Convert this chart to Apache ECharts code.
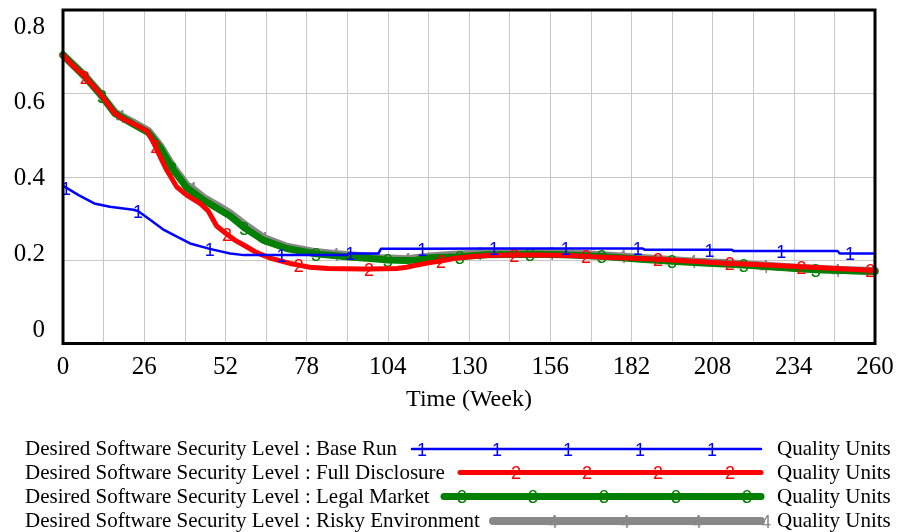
<!DOCTYPE html>
<html>
<head>
<meta charset="utf-8">
<script src="https://cdn.jsdelivr.net/npm/echarts@6/dist/echarts.min.js"></script>
<style>
html,body{margin:0;padding:0;background:#fff;}
#chart{width:899px;height:532px;}
</style>
</head>
<body>
<div id="chart"></div>
<script>
// ---------- DATA ----------
const xTickLabels = [0, 26, 52, 78, 104, 130, 156, 182, 208, 234, 260];
const yTickLabels = [0, 0.2, 0.4, 0.6, 0.8];

const seriesNames = [
  'Desired Software Security Level : Base Run',
  'Desired Software Security Level : Full Disclosure',
  'Desired Software Security Level : Legal Market',
  'Desired Software Security Level : Risky Environment'
];
const unitsLabel = 'Quality Units';
const xAxisTitle = 'Time (Week)';

const baseRunWeeks  = [0, 1, 5, 10, 15, 22.5, 24, 28, 32, 36, 40.7, 47, 53.5, 58, 64, 70, 90.8, 91.5, 92, 101, 101.8, 115, 138, 161, 184, 185.5, 186.2, 207, 214, 214.7, 230, 248, 248.7, 252, 260];
const baseRunValues = [0.378, 0.374, 0.356, 0.336, 0.328, 0.321, 0.318, 0.296, 0.274, 0.258, 0.240, 0.227, 0.216, 0.212, 0.212, 0.212, 0.212, 0.216, 0.216, 0.216, 0.227, 0.227, 0.228, 0.228, 0.228, 0.228, 0.225, 0.225, 0.225, 0.222, 0.222, 0.222, 0.216, 0.216, 0.216];
const baseRunMarkerWeeks = [1, 24, 47, 70, 92, 115, 138, 161, 184, 207, 230, 252];

const fullDisclosureWeeks  = [0, 3, 7, 11.8, 16.6, 19, 22.5, 26.8, 28, 29.5, 31, 33.2, 36.4, 39.6, 43.9, 46.5, 49.2, 52.5, 55, 58.8, 62, 66.3, 72.7, 75.5, 79, 85, 96, 98, 106.9, 110, 113.2, 117.5, 121, 125, 130, 135.7, 144.5, 152, 162, 167.5, 173, 180, 190.5, 204, 213.5, 220, 236.5, 252, 258.5, 260];
const fullDisclosureValues = [0.692, 0.668, 0.640, 0.600, 0.552, 0.540, 0.527, 0.510, 0.496, 0.474, 0.450, 0.416, 0.376, 0.356, 0.336, 0.318, 0.282, 0.262, 0.248, 0.232, 0.218, 0.205, 0.192, 0.188, 0.183, 0.180, 0.179, 0.179, 0.180, 0.183, 0.188, 0.194, 0.198, 0.204, 0.208, 0.211, 0.212, 0.212, 0.211, 0.209, 0.207, 0.205, 0.202, 0.196, 0.192, 0.190, 0.184, 0.178, 0.176, 0.175];
const fullDisclosureMarkerWeeks = [7, 29.5, 52.5, 75.5, 98, 121, 144.5, 167.5, 190.5, 213.5, 236.5, 258.5];

const legalMarketWeeks  = [0, 7, 12.5, 16.6, 22.5, 27.3, 29, 31.1, 35, 39.6, 44.9, 50.3, 53.5, 58, 64.1, 71.6, 81, 90.8, 101.5, 104, 110, 113, 117.5, 127, 135.7, 149.5, 160, 172.5, 185, 195, 205, 218, 230, 241, 250, 260];
const legalMarketValues = [0.692, 0.640, 0.594, 0.552, 0.526, 0.506, 0.490, 0.470, 0.420, 0.374, 0.344, 0.320, 0.306, 0.278, 0.248, 0.228, 0.215, 0.208, 0.202, 0.200, 0.199, 0.200, 0.206, 0.208, 0.213, 0.214, 0.213, 0.209, 0.202, 0.197, 0.193, 0.188, 0.182, 0.177, 0.175, 0.173];
const legalMarketMarkerWeeks = [12.5, 35, 58, 81, 104, 127, 149.5, 172.5, 195, 218, 241];

const riskyEnvWeeks  = [0, 7, 12, 16.6, 18.5, 22.5, 27.3, 29, 31.1, 35, 39.6, 41.3, 45, 50.3, 53.5, 58, 64.1, 71.6, 80, 87, 95, 101.5, 110, 117.5, 125, 133, 145, 156, 168, 179, 190, 201.5, 212, 224.5, 236, 247.5, 260];
const riskyEnvValues = [0.692, 0.642, 0.598, 0.554, 0.546, 0.530, 0.510, 0.494, 0.474, 0.426, 0.380, 0.372, 0.350, 0.327, 0.312, 0.286, 0.254, 0.232, 0.220, 0.215, 0.210, 0.205, 0.202, 0.209, 0.213, 0.216, 0.218, 0.217, 0.214, 0.209, 0.203, 0.197, 0.193, 0.187, 0.181, 0.177, 0.174];
const riskyEnvMarkerWeeks = [18.5, 41.3, 64.1, 87, 110, 133, 156, 179, 201.5, 224.5, 247.5];

// ---------- STYLE ----------
const serif = '"Liberation Serif", "Times New Roman", serif';
const sans = '"Liberation Sans", Arial, sans-serif';
const colors = ['#0000ff', '#ff0000', '#008000', '#888888'];
const widths = [2.5, 5, 7, 8];
const markerChars = ['1', '2', '3', '4'];

function buildData(weeks, values, markers) {
  return weeks.map((w, i) => ({
    value: [w, values[i]],
    label: { show: markers.indexOf(w) >= 0 }
  }));
}

function makeSeries(idx, weeks, values, markers, z) {
  return {
    type: 'line',
    name: seriesNames[idx],
    xAxisIndex: 0,
    yAxisIndex: 0,
    data: buildData(weeks, values, markers),
    z: z,
    showSymbol: true,
    symbol: 'circle',
    symbolSize: 1,
    itemStyle: { color: 'rgba(0,0,0,0)', borderWidth: 0 },
    lineStyle: { color: colors[idx], width: widths[idx], cap: 'round', join: 'round' },
    label: {
      show: false,
      position: 'inside',
      offset: [0, 2],
      formatter: markerChars[idx],
      color: colors[idx],
      fontFamily: sans,
      fontSize: 18
    },
    emphasis: { disabled: true },
    silent: true,
    animation: false
  };
}

// ---------- LEGEND (graphic) ----------
const legendTextX = 25;
const legendRowY = [449.5, 473.5, 497.5, 521.5];
const legendLineY = [449, 472.5, 496.5, 521];
const legendLineStart = [412, 460, 444, 493];
const legendLineEnd = 761;
const legendMarkerX = [
  [422, 497, 568, 640, 712],
  [516, 587, 658, 730],
  [462, 533, 604, 676, 747],
  [553, 625, 697, 766]
];
const unitsX = 777;

const graphics = [];
for (let i = 0; i < 4; i++) {
  graphics.push({
    type: 'text', x: legendTextX, y: legendRowY[i], silent: true,
    style: { text: seriesNames[i], font: '21px ' + serif, fill: '#000', verticalAlign: 'middle', align: 'left' }
  });
  graphics.push({
    type: 'text', x: unitsX, y: legendRowY[i], silent: true,
    style: { text: unitsLabel, font: '21px ' + serif, fill: '#000', verticalAlign: 'middle', align: 'left' }
  });
  graphics.push({
    type: 'line', silent: true,
    shape: { x1: legendLineStart[i], y1: legendLineY[i], x2: legendLineEnd, y2: legendLineY[i] },
    style: { stroke: colors[i], lineWidth: widths[i], lineCap: 'round' }
  });
  legendMarkerX[i].forEach(mx => {
    graphics.push({
      type: 'text', x: mx, y: legendLineY[i] + 2, silent: true,
      style: { text: markerChars[i], font: '18px ' + sans, fill: colors[i], align: 'center', verticalAlign: 'middle' }
    });
  });
}

const chart = echarts.init(document.getElementById('chart'), null, { renderer: 'canvas' });
chart.setOption({
  animation: false,
  backgroundColor: '#ffffff',
  grid: {
    left: 63, top: 10, width: 812, height: 333.5,
    show: true, borderColor: '#000', borderWidth: 3, backgroundColor: 'rgba(0,0,0,0)', z: 10
  },
  xAxis: [{
    type: 'value', min: 0, max: 260, interval: 13,
    axisLine: { show: false },
    axisTick: { show: false },
    splitLine: { show: true, lineStyle: { color: '#c8c8c8', width: 1 } },
    axisLabel: {
      margin: 11, color: '#000', fontFamily: serif, fontSize: 25,
      formatter: v => (xTickLabels.indexOf(v) >= 0 ? String(v) : '')
    },
    name: xAxisTitle, nameLocation: 'middle', nameGap: 44,
    nameTextStyle: { color: '#000', fontFamily: serif, fontSize: 24 }
  }],
  yAxis: [{
    type: 'value', min: 0, max: 0.8, interval: 0.2,
    axisLine: { show: false }, axisTick: { show: false },
    axisLabel: { show: false },
    splitLine: { show: true, lineStyle: { color: '#c8c8c8', width: 1 } }
  }, {
    type: 'value', min: -0.0356, max: 0.8449, position: 'left',
    axisLine: { show: false }, axisTick: { show: false },
    splitLine: { show: false },
    axisLabel: {
      show: true, margin: 18, color: '#000', fontFamily: serif, fontSize: 25,
      customValues: yTickLabels,
      formatter: v => (v === 0 ? '0' : v.toFixed(1))
    }
  }],
  graphic: graphics,
  series: [
    makeSeries(3, riskyEnvWeeks, riskyEnvValues, riskyEnvMarkerWeeks, 2),
    makeSeries(2, legalMarketWeeks, legalMarketValues, legalMarketMarkerWeeks, 3),
    makeSeries(1, fullDisclosureWeeks, fullDisclosureValues, fullDisclosureMarkerWeeks, 4),
    makeSeries(0, baseRunWeeks, baseRunValues, baseRunMarkerWeeks, 5)
  ]
});
</script>
</body>
</html>
